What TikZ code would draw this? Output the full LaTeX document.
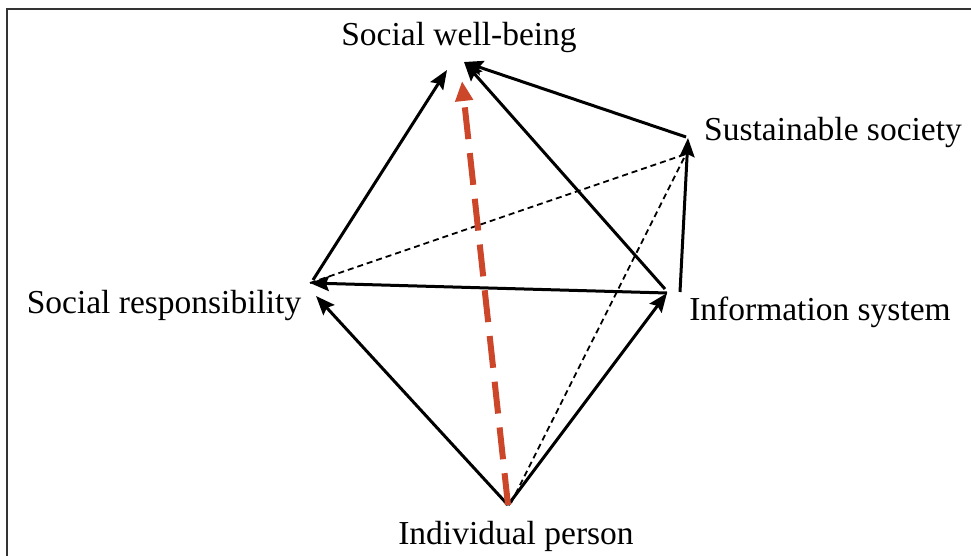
\documentclass[tikz,border=0pt]{standalone}
\usepackage{fontspec}
\setmainfont{Liberation Serif}
\usetikzlibrary{arrows.meta}
\definecolor{redarrow}{RGB}{204,70,42}
\begin{document}
\begin{tikzpicture}[x=1pt,y=-1pt,
  lbl/.style={anchor=base,inner sep=0pt,font=\fontsize{33.5}{40}\selectfont},
  solidarrow/.style={line width=3pt,-{Stealth[length=19pt,width=15pt,inset=3pt]}},
  thindash/.style={line width=1.8pt,dash pattern=on 6pt off 4pt},
  redline/.style={line width=6pt,redarrow,dash pattern=on 32pt off 14pt,
    -{Triangle[length=20pt,width=17pt]}},
  frameline/.style={line width=1.5pt,black!80}]
\useasboundingbox (0,0) rectangle (971,556);
\draw[frameline] (7,556) -- (7,9) -- (971,9);

% vertices
\coordinate (swbL) at (447,70);
\coordinate (swbR) at (464,62);
\coordinate (swbM) at (462,81);
\coordinate (sr) at (310,283);
\coordinate (srB) at (316,296);
\coordinate (srT) at (313,280);
\coordinate (is) at (667,293);
\coordinate (isT) at (665,289);
\coordinate (isR) at (680,292);
\coordinate (ss) at (688,138);
\coordinate (ssL) at (686,137);
\coordinate (ssD) at (686,154);
\coordinate (ip) at (508,505);
\coordinate (ipR) at (511,503);

% labels
\node[lbl] (lswb) at (459,46) {Social well-being};
\node[lbl] (lss) at (833,141) {Sustainable society};
\node[lbl] (lsr) at (164,313) {Social responsibility};
\node[lbl] (lis) at (820,320) {Information system};
\node[lbl] (lip) at (516,544) {Individual person};

% dashed thin lines
\draw[thindash] (sr) -- (ssD);
\draw[thindash] (ipR) -- (ssD);

% solid arrows
\draw[solidarrow] (ip) -- (srB);
\draw[solidarrow] (ip) -- (is);
\draw[solidarrow] (srT) -- (swbL);
\draw[solidarrow] (is) -- (sr);
\draw[solidarrow] (isT) -- (swbR);
\draw[solidarrow] (isR) -- (ss);
\draw[solidarrow] (ssL) -- (swbR);

% red dashed arrow
\draw[redline] (ip) -- (swbM);
\end{tikzpicture}
\end{document}
